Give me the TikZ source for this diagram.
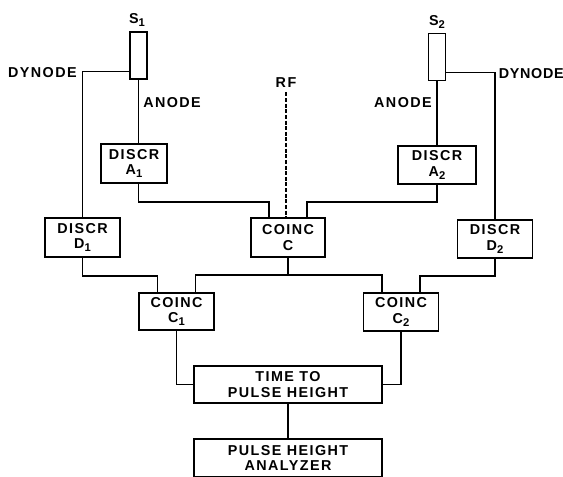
\documentclass[tikz,border=0pt]{standalone}
\usepackage{fontspec}
\setmainfont{Liberation Sans}[LetterSpace=10]
\usetikzlibrary{calc}
\newcommand{\idx}[1]{\raisebox{-2.2pt}{\fontsize{8}{8}\selectfont #1}}
\tikzset{
  every node/.style={font=\bfseries\fontsize{10.2}{10.9}\selectfont,inner sep=0pt,align=center},
  unit/.style={draw,line width=1.2pt,fill=white,minimum width=1.875cm,minimum height=.975cm},
  tube/.style={draw,line width=1.2pt,fill=white,minimum width=.42cm,minimum height=1.17cm},
  wire/.style={line width=1pt},
  rfline/.style={line width=1pt,dash pattern=on 2.8pt off 1.2pt},
}
\begin{document}
\begin{tikzpicture}[x=.025cm,y=-.025cm]
\path[use as bounding box] (0,0) rectangle (563,476);
\fill[white] (0,0) rectangle (563,476);
% counters and their labels
\node[tube] (s1) at (138.5,55.5) {};
\node[tube] (s2) at (437,57) {};
\node (s1lab) at (137,20) {S\idx{1}};
\node (s2lab) at (437,22) {S\idx{2}};
\node[anchor=east] (dyn1) at (77,73) {DYNODE};
\node[anchor=east] (dyn2) at (564,74) {\addfontfeature{LetterSpace=5}DYNODE};
\node[anchor=west] (an1) at (143,103) {ANODE};
\node[anchor=east] (an2) at (432,103) {ANODE};
\node (rf) at (286,83) {RF};
% discriminators and coincidences
\node[unit,minimum width=1.65cm] (a1) at (134,163.5) {DISCR\\A\idx{1}};
\node[unit,minimum width=1.95cm,minimum height=.95cm] (a2) at (437,165) {DISCR\\A\idx{2}};
\node[unit] (d1) at (82.5,237.5) {DISCR\\D\idx{1}};
\node[unit,minimum width=1.85cm] (cc) at (288,237.5) {COINC\\C};
\node[unit,minimum height=.95cm] (d2) at (495,239) {DISCR\\D\idx{2}};
\node[unit,minimum height=.925cm] (c1) at (176.5,311.5) {COINC\\C\idx{1}};
\node[unit,minimum height=.95cm] (c2) at (401,312) {COINC\\C\idx{2}};
\node[unit,minimum width=4.7cm,minimum height=.925cm] (tph) at (288,384.5) {TIME TO\\PULSE HEIGHT};
\node[unit,minimum width=4.7cm,minimum height=.95cm] (pha) at (288,458) {PULSE HEIGHT\\ANALYZER};
% wiring
\draw[wire] ($(s1.south west)+(0,-8)$) -| (d1.north);
\draw[wire] (s1.south) -- (s1.south |- a1.north);
\draw[wire] (s1.south |- a1.south) -- ++(0,18) -| ($(cc.north)+(-19,0)$);
\draw[wire] ($(s2.south east)+(0,-9)$) -| (d2.north);
\draw[wire] (s2.south) -- (a2.north);
\draw[wire] (a2.south) -- ++(0,17) -| ($(cc.north)+(19,0)$);
\draw[rfline,shorten <=3pt] (rf.south) -- (rf.south |- cc.north);
\draw[wire] (d1.south) -- ++(0,18) -| ($(c1.north)+(-19,0)$);
\draw[wire] (cc.south) -- ++(0,17) coordinate (split);
\draw[wire] ($(c1.north)+(19,0)$) |- (split) -| ($(c2.north)+(-19,0)$);
\draw[wire] (d2.south) -- ++(0,17) -| ($(c2.north)+(19,0)$);
\draw[wire] (c1.south) |- (tph.west);
\draw[wire] (c2.south) |- (tph.east);
\draw[wire] (tph) -- (pha);
\end{tikzpicture}
\end{document}
